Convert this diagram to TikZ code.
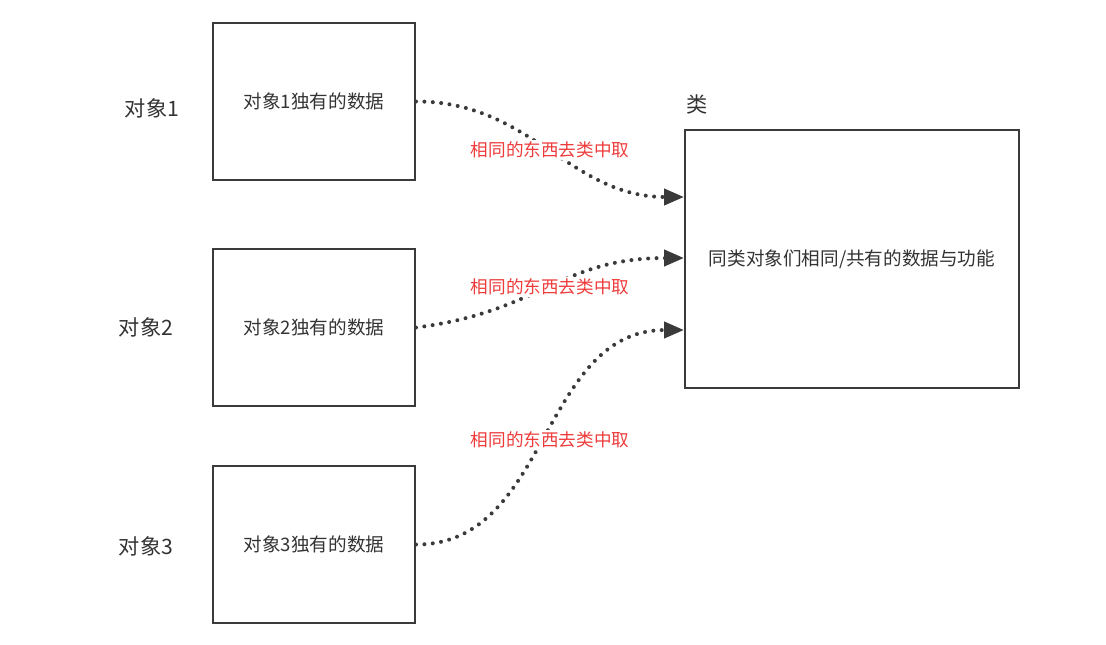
\documentclass[tikz,border=0pt]{standalone}
\usepackage{fontspec}
\setmainfont{Noto Sans CJK SC}
\usepackage{tikz}
\usetikzlibrary{arrows.meta,calc}
\definecolor{ink}{HTML}{333333}
\definecolor{edge}{HTML}{3A3A3A}
\definecolor{note}{HTML}{EE3B3B}
\tikzset{
  objbox/.style={draw=edge, line width=1pt, minimum width=101pt, minimum height=78.5pt,
    inner sep=0pt, text=ink, font=\fontsize{9.3}{11}\selectfont},
  classbox/.style={objbox, minimum width=167pt, minimum height=129pt},
  caption/.style={text=ink, font=\fontsize{10.6}{12}\selectfont},
  share/.style={text=note, fill=white, inner sep=1pt, font=\fontsize{8.8}{10}\selectfont},
  link/.style={-{Triangle[length=10pt,width=8pt]}, draw=edge, line width=2pt,
    line cap=round, dash pattern=on 0pt off 4.2pt}
}
\begin{document}
\begin{tikzpicture}[x=0.5pt, y=-0.5pt]
  \useasboundingbox[fill=white] (0,0) rectangle (1106,644);

  \node[objbox] (obj1) at (314,101.5) {对象1独有的数据};
  \node[objbox] (obj2) at (314,327.5) {对象2独有的数据};
  \node[objbox] (obj3) at (314,544.5) {对象3独有的数据};
  \node[classbox] (cls) at (852,259) {同类对象们相同/共有的数据与功能};

  \node[caption] (name1) at (152,108) {对象1};
  \node[caption] (name2) at (146,327) {对象2};
  \node[caption] (name3) at (146,546) {对象3};
  \node[caption] (clsname) at (697,104) {类};

  \coordinate (in1) at ($(cls.west)+(0,-62)$);
  \coordinate (in2) at ($(cls.west)+(0,-1)$);
  \coordinate (in3) at ($(cls.west)+(0,71)$);

  \draw[link] (obj1.east) .. controls (530,101) and (570,197) .. (in1);
  \draw[link] (obj2.east) .. controls (540,312) and (560,258) .. (in2);
  \draw[link] (obj3.east) .. controls (550,545) and (540,330) .. (in3);

  \node[share] (note1) at (550,150) {相同的东西去类中取};
  \node[share] (note2) at (550,287) {相同的东西去类中取};
  \node[share] (note3) at (550,440) {相同的东西去类中取};
\end{tikzpicture}
\end{document}
